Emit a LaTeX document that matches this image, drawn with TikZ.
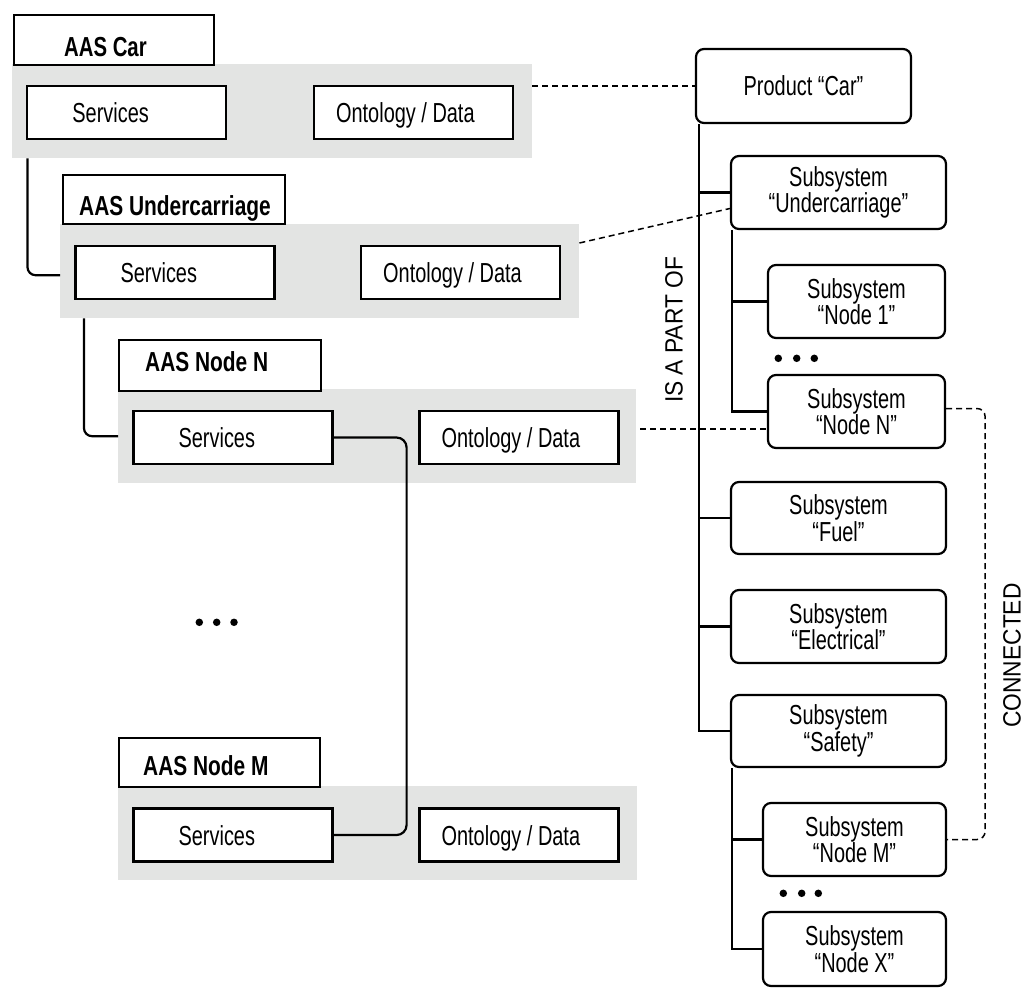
\documentclass[tikz,border=0pt]{standalone}
\usepackage{fontspec}
\setmainfont{Liberation Sans}
\newfontfamily\regf[FakeStretch=0.725]{Liberation Sans}
\newfontfamily\bldf[FakeStretch=0.76]{Liberation Sans}
\newfontfamily\carf[FakeStretch=0.74]{Liberation Sans}
\newfontfamily\labf[FakeStretch=0.91]{Liberation Sans}
\usetikzlibrary{calc}
\definecolor{panelgrey}{RGB}{227,228,227}
\begin{document}
\begin{tikzpicture}[x=1pt,y=-1pt,
  panel/.style={fill=panelgrey, draw=none, inner sep=0pt, anchor=north west},
  lbox/.style={draw, line width=2.2pt, fill=white, inner sep=0pt, anchor=north west},
  ibox/.style={draw, line width=2.2pt, fill=white, inner sep=0pt, minimum width=199pt, minimum height=53pt},
  tbox/.style={draw, line width=2.2pt, fill=white, rounded corners=8pt, inner sep=0pt, align=center, font=\regf\fontsize{27.5}{24.5}\selectfont},
  rtxt/.style={font=\regf\fontsize{27.5}{30}\selectfont, inner sep=0pt, anchor=base west},
  btxt/.style={font=\bldf\bfseries\fontsize{27.5}{30}\selectfont, inner sep=0pt, anchor=base west},
  conn/.style={line width=2.2pt},
  dconn/.style={line width=1.5pt, dash pattern=on 6pt off 4pt},
  dot/.style={circle, fill=black, draw=none, inner sep=0pt, minimum size=7.5pt},
  vlab/.style={font=\labf\fontsize{25}{30}\selectfont, rotate=90, inner sep=0pt}
]
\useasboundingbox (0,0) rectangle (1024,992);

% grey panels
\node[panel, minimum width=520pt, minimum height=94pt] (p1) at (12,64) {};
\node[panel, minimum width=519pt, minimum height=94pt] (p2) at (60,224) {};
\node[panel, minimum width=518pt, minimum height=94pt] (p3) at (118,389) {};
\node[panel, minimum width=519pt, minimum height=94pt] (p4) at (118,786) {};

% connectors between AAS panels
\draw[conn, rounded corners=8pt] ([xshift=15.5pt]p1.south west) |- ([yshift=-4pt]p2.west);
\draw[conn, rounded corners=8pt] ([xshift=24pt]p2.south west) |- (p3.west);

% label boxes
\node[lbox, minimum width=200pt, minimum height=50pt] (l1) at (13,14) {};
\node[lbox, minimum width=222pt, minimum height=49pt] (l2) at (62,174) {};
\node[lbox, minimum width=202pt, minimum height=51pt] (l3) at (118,339) {};
\node[lbox, minimum width=201pt, minimum height=49pt] (l4) at (118,737) {};
\node[btxt, font=\carf\bfseries\fontsize{27.5}{30}\selectfont] (l1t) at (64,57) {AAS Car};
\node[btxt] (l2t) at (79,216) {AAS Undercarriage};
\node[btxt] (l3t) at (145,371.7) {AAS Node N};
\node[btxt] (l4t) at (143,775) {AAS Node M};

% services / ontology boxes
\node[ibox] (s1) at (126.8,112.5) {};
\node[ibox] (o1) at (413.5,112.5) {};
\node[ibox] (s2) at (175,272.5) {};
\node[ibox] (o2) at (460.6,272.5) {};
\node[ibox] (sN) at (233,437.5) {};
\node[ibox] (oN) at (519,437.5) {};
\node[ibox] (sM) at (233,835) {};
\node[ibox] (oM) at (519,835) {};
\foreach \b in {s1,s2,sN,sM}{
  \node[rtxt] (\b t) at ($(\b.west)+(46,10)$) {Services};
}
\foreach \b in {o1,o2,oN,oM}{
  \node[rtxt] (\b t) at ($(\b.west)+(23,10)$) {Ontology / Data};
}

% services N -- services M
\coordinate (c3) at ([xshift=73pt]sN.east);
\draw[conn, rounded corners=10pt] (sN.east) -- (c3) |- (sM.east);

% dots on the left
\node[dot] (ld1) at (199.3,622.3) {};
\node[dot] (ld2) at (216.7,622.3) {};
\node[dot] (ld3) at (234,622.3) {};

% product tree
\node[tbox, minimum width=215pt, minimum height=74pt] (prod) at (803.5,86) {Product “Car”};
\node[tbox, minimum width=215pt, minimum height=73pt] (uc) at (838.5,192.5) {Subsystem\\“Undercarriage”};
\node[tbox, minimum width=177pt, minimum height=73pt] (n1) at (856.5,301.5) {Subsystem\\“Node 1”};
\node[tbox, minimum width=177pt, minimum height=73pt] (nN) at (856.5,411.5) {Subsystem\\“Node N”};
\node[tbox, minimum width=215pt, minimum height=72pt] (fuel) at (838.5,518) {Subsystem\\“Fuel”};
\node[tbox, minimum width=215pt, minimum height=73pt] (elec) at (838.5,626.5) {Subsystem\\“Electrical”};
\node[tbox, minimum width=215pt, minimum height=72pt] (safe) at (838.5,731) {Subsystem\\“Safety”};
\node[tbox, minimum width=183pt, minimum height=73pt] (nM) at (854.5,839.5) {Subsystem\\“Node M”};
\node[tbox, minimum width=183pt, minimum height=74pt] (nX) at (854.5,949) {Subsystem\\“Node X”};

\coordinate (trk) at ([xshift=4pt]prod.south west);
\draw[conn] (trk) |- (safe.west);
\draw[conn] (trk |- uc.west) -- (uc.west);
\draw[conn] (trk |- fuel.west) -- (fuel.west);
\draw[conn] (trk |- elec.west) -- (elec.west);

\coordinate (uct) at ([xshift=2pt]uc.south west);
\draw[conn] (uct) |- (nN.west);
\draw[conn] (uct |- n1.west) -- (n1.west);

\coordinate (sft) at ([xshift=2pt]safe.south west);
\draw[conn] (sft) |- (nX.west);
\draw[conn] (sft |- nM.west) -- (nM.west);

\node[dot] (td1) at (778.3,358.3) {};
\node[dot] (td2) at (796.7,358.3) {};
\node[dot] (td3) at (814.3,358.3) {};
\node[dot] (td4) at (783.3,893.3) {};
\node[dot] (td5) at (801.7,893.3) {};
\node[dot] (td6) at (818.3,893.3) {};

% dashed links
\draw[dconn] (p1.east |- prod.west) -- (prod.west);
\draw[dconn] ([yshift=-19pt]p2.north east) -- ([yshift=-16pt]uc.west);
\coordinate (d3) at ([shift={(4pt,7pt)}]p3.east);
\draw[dconn] (d3) -- (d3 -| nN.west);
\draw[dconn, rounded corners=8pt] ([yshift=3pt]nN.east) -- ++(39pt,0pt) |- (nM.east);

% vertical labels
\node[vlab] (partof) at (674,330) {IS A PART OF};
\node[vlab] (connected) at (1012,655.5) {CONNECTED};
\end{tikzpicture}
\end{document}
